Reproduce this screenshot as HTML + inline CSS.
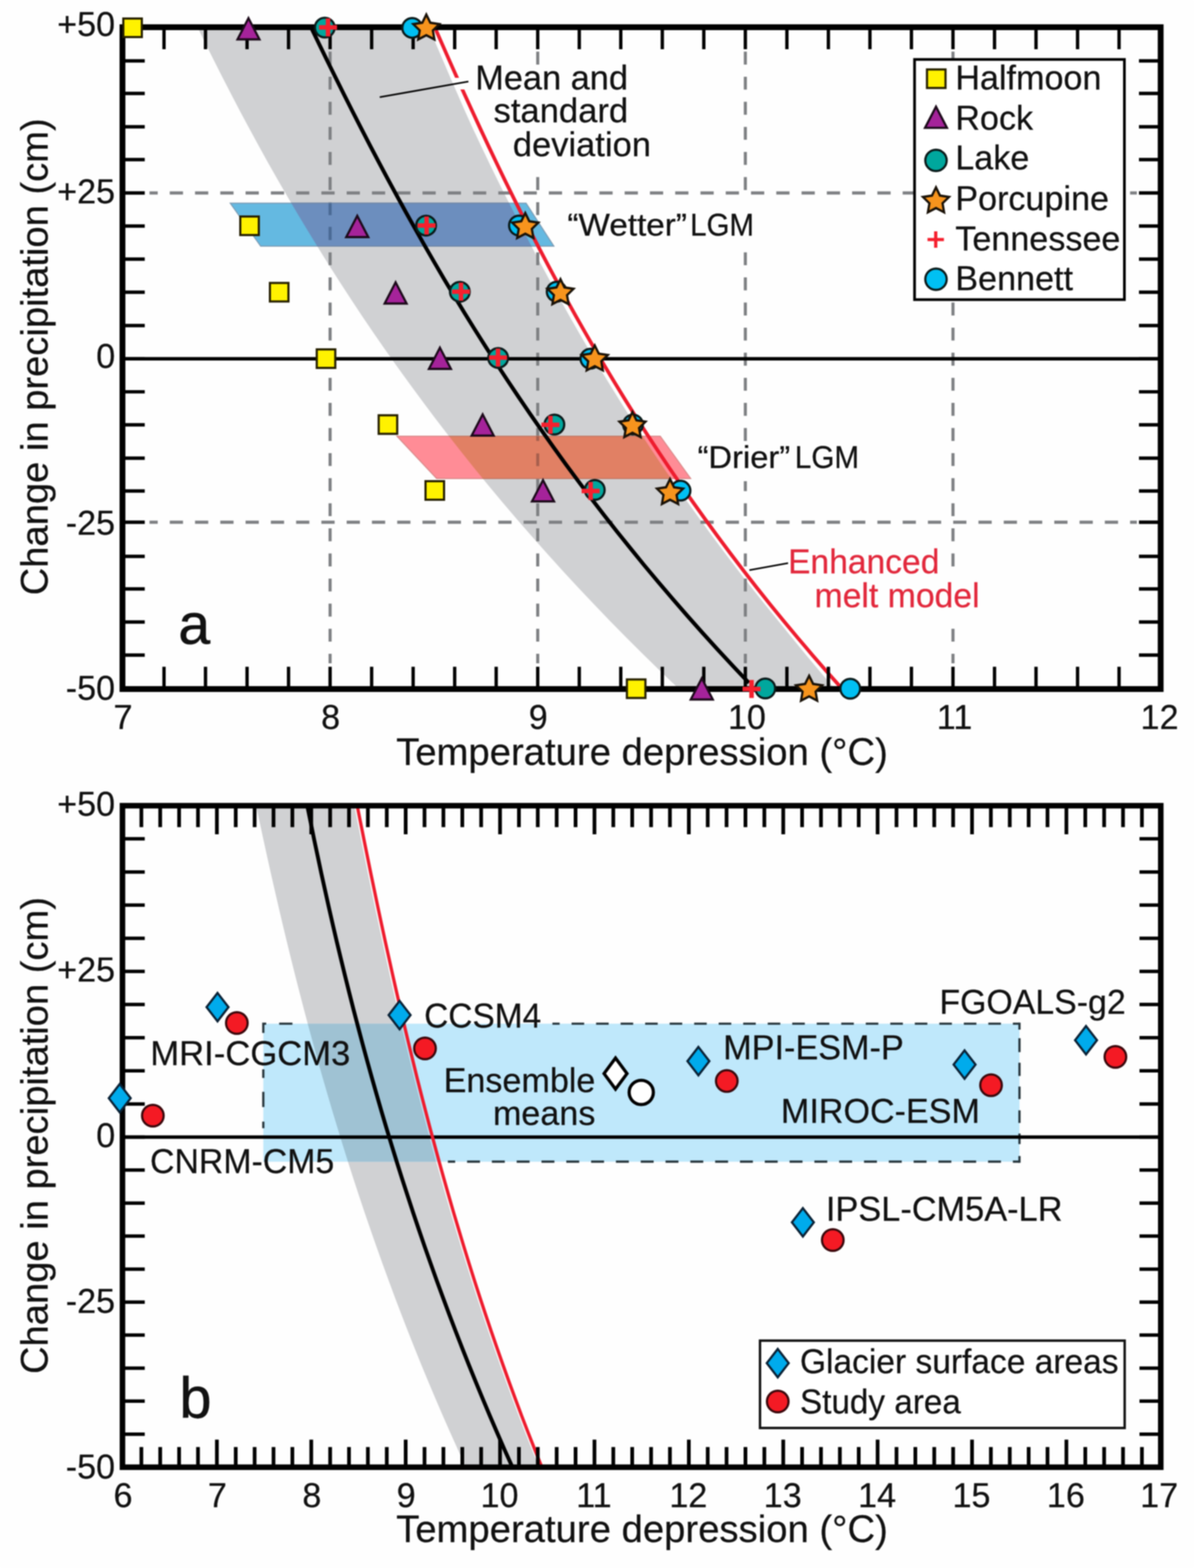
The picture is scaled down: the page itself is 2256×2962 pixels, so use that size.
<!DOCTYPE html>
<html lang="en">
<head>
<meta charset="utf-8">
<title>Change in precipitation vs temperature depression</title>
<style>
html,body{margin:0;padding:0;background:#fff;}
body{width:2256px;height:2962px;}
svg{display:block;font-family:'Liberation Sans', sans-serif;filter:blur(1.3px);}
</style>
</head>
<body>
<svg width="2256" height="2962" viewBox="0 0 2256 2962">
<rect x="0" y="0" width="2256" height="2962" fill="#fefefe"/>
<defs>
<clipPath id="bandA"><path d="M373.3 51.4 L388.9 83.5 L404.9 115.5 L421.1 147.6 L437.6 179.6 L454.4 211.7 L471.6 243.7 L489.0 275.8 L506.8 307.9 L525.0 339.9 L543.5 372.0 L562.3 404.0 L581.6 436.1 L601.2 468.1 L621.2 500.2 L641.7 532.2 L662.5 564.3 L683.8 596.4 L705.5 628.4 L727.7 660.5 L750.4 692.5 L773.5 724.6 L797.1 756.6 L821.2 788.7 L845.8 820.8 L870.9 852.8 L896.6 884.9 L922.8 916.9 L949.5 949.0 L976.8 981.0 L1004.7 1013.1 L1033.1 1045.1 L1062.2 1077.2 L1091.8 1109.3 L1122.1 1141.3 L1153.0 1173.4 L1184.5 1205.4 L1216.7 1237.5 L1249.5 1269.5 L1283.0 1301.6 L1577.5 1301.6 L1550.0 1269.5 L1523.2 1237.5 L1497.0 1205.4 L1471.0 1173.4 L1444.8 1141.3 L1419.3 1109.3 L1394.3 1077.2 L1369.8 1045.1 L1345.9 1013.1 L1322.5 981.0 L1299.4 949.0 L1276.8 916.9 L1254.7 884.9 L1233.0 852.8 L1211.9 820.8 L1191.1 788.7 L1170.8 756.6 L1151.0 724.6 L1131.5 692.5 L1112.5 660.5 L1093.9 628.4 L1075.6 596.4 L1057.6 564.3 L1040.0 532.2 L1022.8 500.2 L1005.8 468.1 L988.9 436.1 L972.3 404.0 L956.0 372.0 L940.0 339.9 L924.4 307.9 L909.0 275.8 L893.9 243.7 L879.4 211.7 L865.3 179.6 L851.3 147.6 L837.6 115.5 L823.9 83.5 L810.4 51.4 Z"/></clipPath>
<clipPath id="boxA"><rect x="231.4" y="51.4" width="1961.6" height="1250.2"/></clipPath>
</defs>
<g id="panel-a">
<path d="M373.3 51.4 L388.9 83.5 L404.9 115.5 L421.1 147.6 L437.6 179.6 L454.4 211.7 L471.6 243.7 L489.0 275.8 L506.8 307.9 L525.0 339.9 L543.5 372.0 L562.3 404.0 L581.6 436.1 L601.2 468.1 L621.2 500.2 L641.7 532.2 L662.5 564.3 L683.8 596.4 L705.5 628.4 L727.7 660.5 L750.4 692.5 L773.5 724.6 L797.1 756.6 L821.2 788.7 L845.8 820.8 L870.9 852.8 L896.6 884.9 L922.8 916.9 L949.5 949.0 L976.8 981.0 L1004.7 1013.1 L1033.1 1045.1 L1062.2 1077.2 L1091.8 1109.3 L1122.1 1141.3 L1153.0 1173.4 L1184.5 1205.4 L1216.7 1237.5 L1249.5 1269.5 L1283.0 1301.6 L1577.5 1301.6 L1550.0 1269.5 L1523.2 1237.5 L1497.0 1205.4 L1471.0 1173.4 L1444.8 1141.3 L1419.3 1109.3 L1394.3 1077.2 L1369.8 1045.1 L1345.9 1013.1 L1322.5 981.0 L1299.4 949.0 L1276.8 916.9 L1254.7 884.9 L1233.0 852.8 L1211.9 820.8 L1191.1 788.7 L1170.8 756.6 L1151.0 724.6 L1131.5 692.5 L1112.5 660.5 L1093.9 628.4 L1075.6 596.4 L1057.6 564.3 L1040.0 532.2 L1022.8 500.2 L1005.8 468.1 L988.9 436.1 L972.3 404.0 L956.0 372.0 L940.0 339.9 L924.4 307.9 L909.0 275.8 L893.9 243.7 L879.4 211.7 L865.3 179.6 L851.3 147.6 L837.6 115.5 L823.9 83.5 L810.4 51.4 Z" fill="#d0d1d3"/>
<line x1="623.7" y1="97.5" x2="623.7" y2="1253" stroke="#7e8083" stroke-width="5.8" stroke-dasharray="24.4 23"/>
<line x1="1016.0" y1="97.5" x2="1016.0" y2="1253" stroke="#7e8083" stroke-width="5.8" stroke-dasharray="24.4 23"/>
<line x1="1408.3" y1="97.5" x2="1408.3" y2="1253" stroke="#7e8083" stroke-width="5.8" stroke-dasharray="24.4 23"/>
<line x1="1800.6" y1="97.5" x2="1800.6" y2="1253" stroke="#7e8083" stroke-width="5.8" stroke-dasharray="24.4 23"/>
<line x1="282.5" y1="364.5" x2="2148" y2="364.5" stroke="#7e8083" stroke-width="5.8" stroke-dasharray="25 22.75" stroke-dashoffset="9.5"/>
<line x1="282.5" y1="986.5" x2="2148" y2="986.5" stroke="#7e8083" stroke-width="5.8" stroke-dasharray="25 22.75" stroke-dashoffset="9.5"/>
<rect x="1005" y="123" width="20" height="209.5" fill="#fefefe"/>
<rect x="1398" y="380" width="20" height="76" fill="#fefefe"/>
<rect x="1398" y="833" width="20" height="76" fill="#fefefe"/>
<rect x="1790" y="1080" width="21" height="100" fill="#fefefe"/>
<polygon points="435,383.8 994,383.8 1046.5,465 492.5,465" fill="#64b9e1" stroke="#7d9bb3" stroke-width="2"/>
<polygon points="435,383.8 994,383.8 1046.5,465 492.5,465" fill="#6c8ebe" stroke="#6f86a6" stroke-width="2" clip-path="url(#bandA)"/>
<polygon points="750,824 1247.5,824 1305,904 825,904" fill="#ff8c96" stroke="#d98a8a" stroke-width="2"/>
<polygon points="750,824 1247.5,824 1305,904 825,904" fill="#e18064" stroke="#c27a66" stroke-width="2" clip-path="url(#bandA)"/>
<path d="M623.7 384 V406.5 M623.7 428.5 V453.5" stroke="#4a6a95" stroke-width="5.8" fill="none"/>
<path d="M1016.0 824 V833 M1016.0 856.5 V880.5" stroke="#a8604e" stroke-width="5.8" fill="none"/>
<line x1="231.4" y1="677.8" x2="2193.0" y2="677.8" stroke="#000" stroke-width="6.5"/>
<path d="M821.4 51.4 L835.5 83.5 L849.6 115.5 L863.9 147.6 L878.4 179.6 L893.1 211.7 L907.9 243.7 L922.9 275.8 L938.2 307.9 L953.7 339.9 L969.5 372.0 L985.5 404.0 L1001.7 436.1 L1018.3 468.1 L1035.1 500.2 L1052.3 532.2 L1069.8 564.3 L1087.6 596.4 L1105.8 628.4 L1124.3 660.5 L1143.2 692.5 L1162.5 724.6 L1182.2 756.6 L1202.3 788.7 L1222.9 820.8 L1243.9 852.8 L1265.3 884.9 L1287.2 916.9 L1309.6 949.0 L1332.5 981.0 L1355.9 1013.1 L1379.8 1045.1 L1404.3 1077.2 L1429.3 1109.3 L1454.8 1141.3 L1481.0 1173.4 L1507.7 1205.4 L1535.0 1237.5 L1562.9 1269.5 L1591.5 1301.6" fill="none" stroke="#ee1c2e" stroke-width="6.8" clip-path="url(#boxA)"/>
<path d="M587.6 51.4 L602.9 83.2 L618.4 114.9 L634.1 146.7 L649.9 178.4 L665.9 210.2 L682.2 242.0 L698.6 273.7 L715.3 305.5 L732.2 337.2 L749.4 369.0 L766.8 400.7 L784.6 432.5 L802.6 464.3 L820.9 496.0 L839.5 527.8 L858.5 559.5 L877.8 591.3 L897.5 623.1 L917.5 654.8 L937.9 686.6 L958.7 718.3 L980.0 750.1 L1001.6 781.9 L1023.7 813.6 L1046.2 845.4 L1069.1 877.1 L1092.6 908.9 L1116.5 940.7 L1140.9 972.4 L1165.8 1004.2 L1191.3 1035.9 L1217.2 1067.7 L1243.7 1099.4 L1270.8 1131.2 L1298.5 1163.0 L1326.7 1194.7 L1355.5 1226.5 L1385.0 1258.2 L1415.0 1290.0" fill="none" stroke="#000" stroke-width="7.3" clip-path="url(#boxA)"/>
<polygon points="853,147 872,147 881,169 862,169" fill="#fefefe"/>
<rect x="231.4" y="51.4" width="1961.6" height="1250.2" fill="none" stroke="#000" stroke-width="11"/>
<path d="M309.9 51.4 V93 M309.9 1301.6 V1259.5 M388.3 51.4 V93 M388.3 1301.6 V1259.5 M466.8 51.4 V93 M466.8 1301.6 V1259.5 M545.2 51.4 V93 M545.2 1301.6 V1259.5 M623.7 51.4 V93 M623.7 1301.6 V1259.5 M702.2 51.4 V93 M702.2 1301.6 V1259.5 M780.6 51.4 V93 M780.6 1301.6 V1259.5 M859.1 51.4 V93 M859.1 1301.6 V1259.5 M937.5 51.4 V93 M937.5 1301.6 V1259.5 M1016.0 51.4 V93 M1016.0 1301.6 V1259.5 M1094.5 51.4 V93 M1094.5 1301.6 V1259.5 M1172.9 51.4 V93 M1172.9 1301.6 V1259.5 M1251.4 51.4 V93 M1251.4 1301.6 V1259.5 M1329.8 51.4 V93 M1329.8 1301.6 V1259.5 M1408.3 51.4 V93 M1408.3 1301.6 V1259.5 M1486.8 51.4 V93 M1486.8 1301.6 V1259.5 M1565.2 51.4 V93 M1565.2 1301.6 V1259.5 M1643.7 51.4 V93 M1643.7 1301.6 V1259.5 M1722.1 51.4 V93 M1722.1 1301.6 V1259.5 M1800.6 51.4 V93 M1800.6 1301.6 V1259.5 M1879.1 51.4 V93 M1879.1 1301.6 V1259.5 M1957.5 51.4 V93 M1957.5 1301.6 V1259.5 M2036.0 51.4 V93 M2036.0 1301.6 V1259.5 M2114.4 51.4 V93 M2114.4 1301.6 V1259.5 M231.4 115.0 H273.5 M2193.0 115.0 H2152 M231.4 176.5 H273.5 M2193.0 176.5 H2152 M231.4 239.5 H273.5 M2193.0 239.5 H2152 M231.4 301.5 H273.5 M2193.0 301.5 H2152 M231.4 364.5 H273.5 M2193.0 364.5 H2152 M231.4 427.0 H273.5 M2193.0 427.0 H2152 M231.4 489.5 H273.5 M2193.0 489.5 H2152 M231.4 552.0 H273.5 M2193.0 552.0 H2152 M231.4 615.0 H273.5 M2193.0 615.0 H2152 M231.4 677.8 H273.5 M2193.0 677.8 H2152 M231.4 740.2 H273.5 M2193.0 740.2 H2152 M231.4 802.5 H273.5 M2193.0 802.5 H2152 M231.4 865.5 H273.5 M2193.0 865.5 H2152 M231.4 927.5 H273.5 M2193.0 927.5 H2152 M231.4 986.5 H273.5 M2193.0 986.5 H2152 M231.4 1051.0 H273.5 M2193.0 1051.0 H2152 M231.4 1112.5 H273.5 M2193.0 1112.5 H2152 M231.4 1175.0 H273.5 M2193.0 1175.0 H2152 M231.4 1237.5 H273.5 M2193.0 1237.5 H2152 " stroke="#000" stroke-width="6.3" fill="none"/>
<line x1="717.5" y1="183.5" x2="885" y2="154" stroke="#000" stroke-width="3"/>
<line x1="1416" y1="1077" x2="1489" y2="1063.8" stroke="#000" stroke-width="3"/>
<rect x="233.0" y="35.0" width="35" height="35" fill="#fff200" stroke="#262000" stroke-width="4.1"/>
<rect x="454.0" y="409.0" width="35" height="35" fill="#fff200" stroke="#262000" stroke-width="4.1"/>
<rect x="510.0" y="534.5" width="35" height="35" fill="#fff200" stroke="#262000" stroke-width="4.1"/>
<rect x="598.5" y="660.0" width="35" height="35" fill="#fff200" stroke="#262000" stroke-width="4.1"/>
<rect x="715.5" y="784.5" width="35" height="35" fill="#fff200" stroke="#262000" stroke-width="4.1"/>
<rect x="804.0" y="909.0" width="35" height="35" fill="#fff200" stroke="#262000" stroke-width="4.1"/>
<rect x="1184.5" y="1283.5" width="35" height="35" fill="#fff200" stroke="#262000" stroke-width="4.1"/>
<polygon points="469.5,34.4 490.2,74.4 448.8,74.4" fill="#a5239a" stroke="#1c0a1a" stroke-width="4.2" stroke-linejoin="miter"/>
<polygon points="675.0,407.8 695.8,447.8 654.2,447.8" fill="#a5239a" stroke="#1c0a1a" stroke-width="4.2" stroke-linejoin="miter"/>
<polygon points="747.5,533.4 768.2,573.4 726.8,573.4" fill="#a5239a" stroke="#1c0a1a" stroke-width="4.2" stroke-linejoin="miter"/>
<polygon points="831.2,656.9 852.0,696.9 810.5,696.9" fill="#a5239a" stroke="#1c0a1a" stroke-width="4.2" stroke-linejoin="miter"/>
<polygon points="912.0,782.9 932.8,822.9 891.2,822.9" fill="#a5239a" stroke="#1c0a1a" stroke-width="4.2" stroke-linejoin="miter"/>
<polygon points="1026.0,907.1 1046.8,947.1 1005.2,947.1" fill="#a5239a" stroke="#1c0a1a" stroke-width="4.2" stroke-linejoin="miter"/>
<polygon points="1326.0,1281.4 1346.8,1321.4 1305.2,1321.4" fill="#a5239a" stroke="#1c0a1a" stroke-width="4.2" stroke-linejoin="miter"/>
<circle cx="613.6" cy="52.1" r="18.6" fill="#00a79d" stroke="#0a1a1a" stroke-width="4.2"/>
<circle cx="805.0" cy="426.2" r="18.6" fill="#00a79d" stroke="#0a1a1a" stroke-width="4.2"/>
<circle cx="868.8" cy="551.2" r="18.6" fill="#00a79d" stroke="#0a1a1a" stroke-width="4.2"/>
<circle cx="941.2" cy="676.2" r="18.6" fill="#00a79d" stroke="#0a1a1a" stroke-width="4.2"/>
<circle cx="1047.5" cy="802.0" r="18.6" fill="#00a79d" stroke="#0a1a1a" stroke-width="4.2"/>
<circle cx="1123.8" cy="925.5" r="18.6" fill="#00a79d" stroke="#0a1a1a" stroke-width="4.2"/>
<circle cx="1446.0" cy="1300.5" r="18.6" fill="#00a79d" stroke="#0a1a1a" stroke-width="4.2"/>
<path d="M602.8 51.8 H636.8 M619.8 34.8 V68.8" stroke="#f5202e" stroke-width="8.5" fill="none"/>
<path d="M789.0 426.0 H823.0 M806.0 409.0 V443.0" stroke="#f5202e" stroke-width="8.5" fill="none"/>
<path d="M854.0 551.0 H888.0 M871.0 534.0 V568.0" stroke="#f5202e" stroke-width="8.5" fill="none"/>
<path d="M924.0 675.5 H958.0 M941.0 658.5 V692.5" stroke="#f5202e" stroke-width="8.5" fill="none"/>
<path d="M1023.0 802.5 H1057.0 M1040.0 785.5 V819.5" stroke="#f5202e" stroke-width="8.5" fill="none"/>
<path d="M1099.0 927.5 H1133.0 M1116.0 910.5 V944.5" stroke="#f5202e" stroke-width="8.5" fill="none"/>
<path d="M1403.0 1301.5 H1437.0 M1420.0 1284.5 V1318.5" stroke="#f5202e" stroke-width="8.5" fill="none"/>
<circle cx="778.8" cy="52.7" r="18.6" fill="#00c0f3" stroke="#0a1a1a" stroke-width="4.2"/>
<circle cx="980.5" cy="426.0" r="18.6" fill="#00c0f3" stroke="#0a1a1a" stroke-width="4.2"/>
<circle cx="1051.8" cy="551.0" r="18.6" fill="#00c0f3" stroke="#0a1a1a" stroke-width="4.2"/>
<circle cx="1115.5" cy="677.5" r="18.6" fill="#00c0f3" stroke="#0a1a1a" stroke-width="4.2"/>
<circle cx="1196.0" cy="802.0" r="18.6" fill="#00c0f3" stroke="#0a1a1a" stroke-width="4.2"/>
<circle cx="1285.8" cy="926.8" r="18.6" fill="#00c0f3" stroke="#0a1a1a" stroke-width="4.2"/>
<circle cx="1606.5" cy="1301.0" r="18.6" fill="#00c0f3" stroke="#0a1a1a" stroke-width="4.2"/>
<polygon points="805.5,27.5 813.1,43.0 830.2,45.5 817.9,57.5 820.8,74.5 805.5,66.5 790.2,74.5 793.1,57.5 780.8,45.5 797.9,43.0" fill="#f7941d" stroke="#1a1208" stroke-width="4.3" stroke-linejoin="miter"/>
<polygon points="992.5,402.5 1000.1,418.0 1017.2,420.5 1004.9,432.5 1007.8,449.5 992.5,441.5 977.2,449.5 980.1,432.5 967.8,420.5 984.9,418.0" fill="#f7941d" stroke="#1a1208" stroke-width="4.3" stroke-linejoin="miter"/>
<polygon points="1059.0,527.5 1066.6,543.0 1083.7,545.5 1071.4,557.5 1074.3,574.5 1059.0,566.5 1043.7,574.5 1046.6,557.5 1034.3,545.5 1051.4,543.0" fill="#f7941d" stroke="#1a1208" stroke-width="4.3" stroke-linejoin="miter"/>
<polygon points="1123.8,652.6 1131.4,668.1 1148.5,670.6 1136.1,682.6 1139.0,699.6 1123.8,691.6 1108.5,699.6 1111.4,682.6 1099.0,670.6 1116.1,668.1" fill="#f7941d" stroke="#1a1208" stroke-width="4.3" stroke-linejoin="miter"/>
<polygon points="1195.0,778.5 1202.6,794.0 1219.7,796.5 1207.4,808.5 1210.3,825.5 1195.0,817.5 1179.7,825.5 1182.6,808.5 1170.3,796.5 1187.4,794.0" fill="#f7941d" stroke="#1a1208" stroke-width="4.3" stroke-linejoin="miter"/>
<polygon points="1266.0,905.0 1273.6,920.5 1290.7,923.0 1278.4,935.0 1281.3,952.0 1266.0,944.0 1250.7,952.0 1253.6,935.0 1241.3,923.0 1258.4,920.5" fill="#f7941d" stroke="#1a1208" stroke-width="4.3" stroke-linejoin="miter"/>
<polygon points="1528.8,1276.5 1536.4,1292.0 1553.5,1294.5 1541.1,1306.5 1544.0,1323.5 1528.8,1315.5 1513.5,1323.5 1516.4,1306.5 1504.0,1294.5 1521.1,1292.0" fill="#f7941d" stroke="#1a1208" stroke-width="4.3" stroke-linejoin="miter"/>
<rect x="1728" y="112.3" width="396.5" height="453.7" fill="#fff" stroke="#000" stroke-width="5.1"/>
<rect x="1751.5" y="131.2" width="35" height="35" fill="#fff200" stroke="#262000" stroke-width="4.1"/>
<polygon points="1768.5,201.5 1789.2,241.5 1747.8,241.5" fill="#a5239a" stroke="#1c0a1a" stroke-width="4.2" stroke-linejoin="miter"/>
<circle cx="1768.5" cy="303.0" r="20.2" fill="#00a79d" stroke="#0a1a1a" stroke-width="4.2"/>
<polygon points="1768.5,354.0 1776.1,369.5 1793.2,372.0 1780.9,384.0 1783.8,401.0 1768.5,393.0 1753.2,401.0 1756.1,384.0 1743.8,372.0 1760.9,369.5" fill="#f7941d" stroke="#1a1208" stroke-width="4.3" stroke-linejoin="miter"/>
<path d="M1752.5 452.5 H1783.5 M1768.0 437.0 V468.0" stroke="#f5202e" stroke-width="6.2" fill="none"/>
<circle cx="1768.5" cy="527.5" r="20.2" fill="#00c0f3" stroke="#0a1a1a" stroke-width="4.2"/>
<text x="1805.0" y="169.0" font-size="64.5" text-anchor="start" fill="#111" stroke="#111" stroke-width="0.4" >Halfmoon</text>
<text x="1805.0" y="244.5" font-size="64.5" text-anchor="start" fill="#111" stroke="#111" stroke-width="0.4" >Rock</text>
<text x="1805.0" y="320.0" font-size="64.5" text-anchor="start" fill="#111" stroke="#111" stroke-width="0.4" >Lake</text>
<text x="1805.0" y="396.5" font-size="64.5" text-anchor="start" fill="#111" stroke="#111" stroke-width="0.4" >Porcupine</text>
<text x="1805.0" y="472.5" font-size="64.5" text-anchor="start" fill="#111" stroke="#111" stroke-width="0.4" >Tennessee</text>
<text x="1805.0" y="547.5" font-size="64.5" text-anchor="start" fill="#111" stroke="#111" stroke-width="0.4" >Bennett</text>
<text x="898.0" y="169.0" font-size="64.5" text-anchor="start" fill="#111" stroke="#111" stroke-width="0.4" textLength="288.5" lengthAdjust="spacingAndGlyphs" >Mean and</text>
<text x="932.5" y="231.0" font-size="64.5" text-anchor="start" fill="#111" stroke="#111" stroke-width="0.4" textLength="254.5" lengthAdjust="spacingAndGlyphs" >standard</text>
<text x="969.0" y="295.0" font-size="64.5" text-anchor="start" fill="#111" stroke="#111" stroke-width="0.4" textLength="261.0" lengthAdjust="spacingAndGlyphs" >deviation</text>
<text y="445" font-size="60" fill="#111" stroke="#111" stroke-width="0.5"><tspan x="1072" textLength="226" lengthAdjust="spacingAndGlyphs">“Wetter”</tspan><tspan x="1288.5" textLength="136" lengthAdjust="spacingAndGlyphs"> LGM</tspan></text>
<text y="883.5" font-size="60" fill="#111" stroke="#111" stroke-width="0.5"><tspan x="1318" textLength="175" lengthAdjust="spacingAndGlyphs">“Drier”</tspan><tspan x="1486.3" textLength="137" lengthAdjust="spacingAndGlyphs"> LGM</tspan></text>
<text x="1489.0" y="1082.5" font-size="64.5" text-anchor="start" fill="#e2283c" stroke="#e2283c" stroke-width="0.4" textLength="286.0" lengthAdjust="spacingAndGlyphs" >Enhanced</text>
<text x="1539.0" y="1147.0" font-size="64.5" text-anchor="start" fill="#e2283c" stroke="#e2283c" stroke-width="0.4" textLength="312.0" lengthAdjust="spacingAndGlyphs" >melt model</text>
<text x="337.0" y="1216.0" font-size="108.0" text-anchor="start" fill="#111" stroke="#111" stroke-width="0.4" style="stroke-width:1px">a</text>
<text x="217.5" y="68.3" font-size="64.5" text-anchor="end" fill="#111" stroke="#111" stroke-width="0.4" >+50</text>
<text x="217.5" y="383.5" font-size="64.5" text-anchor="end" fill="#111" stroke="#111" stroke-width="0.4" >+25</text>
<text x="217.5" y="695.2" font-size="64.5" text-anchor="end" fill="#111" stroke="#111" stroke-width="0.4" >0</text>
<text x="217.5" y="1009.5" font-size="64.5" text-anchor="end" fill="#111" stroke="#111" stroke-width="0.4" >-25</text>
<text x="217.5" y="1321.8" font-size="64.5" text-anchor="end" fill="#111" stroke="#111" stroke-width="0.4" >-50</text>
<text x="232.4" y="1376.5" font-size="64.5" text-anchor="middle" fill="#111" stroke="#111" stroke-width="0.4" >7</text>
<text x="624.7" y="1376.5" font-size="64.5" text-anchor="middle" fill="#111" stroke="#111" stroke-width="0.4" >8</text>
<text x="1017.0" y="1376.5" font-size="64.5" text-anchor="middle" fill="#111" stroke="#111" stroke-width="0.4" >9</text>
<text x="1411.3" y="1376.5" font-size="64.5" text-anchor="middle" fill="#111" stroke="#111" stroke-width="0.4" >10</text>
<text x="1803.6" y="1376.5" font-size="64.5" text-anchor="middle" fill="#111" stroke="#111" stroke-width="0.4" >11</text>
<text x="2190.9" y="1376.5" font-size="64.5" text-anchor="middle" fill="#111" stroke="#111" stroke-width="0.4" >12</text>
<text x="1213.0" y="1445.0" font-size="72.5" text-anchor="middle" fill="#111" stroke="#111" stroke-width="0.4" textLength="929.0" lengthAdjust="spacingAndGlyphs" >Temperature depression (°C)</text>
<text transform="translate(90,674) rotate(-90)" font-size="71.5" text-anchor="middle" fill="#111" stroke="#111" stroke-width="0.4" textLength="901" lengthAdjust="spacingAndGlyphs">Change in precipitation (cm)</text>
</g>
<defs>
<clipPath id="bandB"><path d="M484.1 1522.0 L490.8 1554.0 L497.7 1586.1 L504.7 1618.1 L511.9 1650.2 L519.2 1682.2 L526.6 1714.2 L534.1 1746.3 L541.8 1778.3 L549.7 1810.4 L557.7 1842.4 L565.9 1874.5 L574.2 1906.5 L582.7 1938.5 L591.4 1970.6 L600.3 2002.6 L609.3 2034.7 L618.6 2066.7 L628.0 2098.7 L637.7 2130.8 L647.5 2162.8 L657.6 2194.9 L667.9 2226.9 L678.4 2258.9 L689.1 2291.0 L700.1 2323.0 L711.3 2355.1 L722.7 2387.1 L734.4 2419.1 L746.3 2451.2 L758.5 2483.2 L770.9 2515.3 L783.6 2547.3 L796.6 2579.4 L809.9 2611.4 L823.4 2643.4 L837.2 2675.5 L851.3 2707.5 L865.7 2739.6 L880.4 2771.6 L1018.3 2771.6 L1005.5 2739.6 L992.9 2707.5 L980.5 2675.5 L968.5 2643.4 L956.7 2611.4 L945.2 2579.4 L933.9 2547.3 L922.8 2515.3 L912.0 2483.2 L901.4 2451.2 L891.0 2419.1 L880.9 2387.1 L871.0 2355.1 L861.3 2323.0 L851.7 2291.0 L842.4 2258.9 L833.3 2226.9 L824.3 2194.9 L815.6 2162.8 L807.0 2130.8 L798.6 2098.7 L790.3 2066.7 L782.2 2034.7 L774.3 2002.6 L766.5 1970.6 L758.8 1938.5 L751.3 1906.5 L743.9 1874.5 L736.6 1842.4 L729.5 1810.4 L722.4 1778.3 L715.5 1746.3 L708.6 1714.2 L701.9 1682.2 L695.2 1650.2 L688.7 1618.1 L682.2 1586.1 L675.8 1554.0 L669.4 1522.0 Z"/></clipPath>
<clipPath id="boxB"><rect x="231.4" y="1522.0" width="1961.8" height="1249.6"/></clipPath>
</defs>
<g id="panel-b">
<path d="M484.1 1522.0 L490.8 1554.0 L497.7 1586.1 L504.7 1618.1 L511.9 1650.2 L519.2 1682.2 L526.6 1714.2 L534.1 1746.3 L541.8 1778.3 L549.7 1810.4 L557.7 1842.4 L565.9 1874.5 L574.2 1906.5 L582.7 1938.5 L591.4 1970.6 L600.3 2002.6 L609.3 2034.7 L618.6 2066.7 L628.0 2098.7 L637.7 2130.8 L647.5 2162.8 L657.6 2194.9 L667.9 2226.9 L678.4 2258.9 L689.1 2291.0 L700.1 2323.0 L711.3 2355.1 L722.7 2387.1 L734.4 2419.1 L746.3 2451.2 L758.5 2483.2 L770.9 2515.3 L783.6 2547.3 L796.6 2579.4 L809.9 2611.4 L823.4 2643.4 L837.2 2675.5 L851.3 2707.5 L865.7 2739.6 L880.4 2771.6 L1018.3 2771.6 L1005.5 2739.6 L992.9 2707.5 L980.5 2675.5 L968.5 2643.4 L956.7 2611.4 L945.2 2579.4 L933.9 2547.3 L922.8 2515.3 L912.0 2483.2 L901.4 2451.2 L891.0 2419.1 L880.9 2387.1 L871.0 2355.1 L861.3 2323.0 L851.7 2291.0 L842.4 2258.9 L833.3 2226.9 L824.3 2194.9 L815.6 2162.8 L807.0 2130.8 L798.6 2098.7 L790.3 2066.7 L782.2 2034.7 L774.3 2002.6 L766.5 1970.6 L758.8 1938.5 L751.3 1906.5 L743.9 1874.5 L736.6 1842.4 L729.5 1810.4 L722.4 1778.3 L715.5 1746.3 L708.6 1714.2 L701.9 1682.2 L695.2 1650.2 L688.7 1618.1 L682.2 1586.1 L675.8 1554.0 L669.4 1522.0 Z" fill="#d0d1d3"/>
<rect x="497.5" y="1933.75" width="1428.75" height="260.75" fill="#bfe8fb"/>
<rect x="497.5" y="1933.75" width="1428.75" height="260.75" fill="#9fc2d3" clip-path="url(#bandB)"/>
<path d="M1926.25 1933.75 H1043.75" fill="none" stroke="#26343b" stroke-width="4.2" stroke-dasharray="23.75 22.57" stroke-dashoffset="11.25"/>
<path d="M1926.25 2194.4 H846.25" fill="none" stroke="#26343b" stroke-width="4.2" stroke-dasharray="24.4 22.475" stroke-dashoffset="11.9"/>
<path d="M1926.25 1931.85 V1945 M1926.25 1961.25 V1987.5 M1926.25 2007.5 V2032.5 M1926.25 2052.5 V2076.25 M1926.25 2097.5 V2121.25 M1926.25 2141.25 V2161.25 M1926.25 2183.75 V2196.4" fill="none" stroke="#26343b" stroke-width="4.2"/>
<path d="M497.5 1951.25 V1931.85 M495.6 1933.75 H503 M527.5 1933.75 H552.5 M497.5 2020 V2036.25 M497.5 2062.5 V2091.25 M497.5 2118.75 V2131.25" fill="none" stroke="#26343b" stroke-width="4.2"/>
<line x1="231.4" y1="2148.0" x2="2193.2" y2="2148.0" stroke="#000" stroke-width="6.5"/>
<path d="M674.9 1522.0 L681.3 1554.0 L687.7 1586.1 L694.2 1618.1 L700.7 1650.2 L707.4 1682.2 L714.1 1714.2 L721.0 1746.3 L727.9 1778.3 L735.0 1810.4 L742.1 1842.4 L749.4 1874.5 L756.8 1906.5 L764.3 1938.5 L772.0 1970.6 L779.8 2002.6 L787.7 2034.7 L795.8 2066.7 L804.1 2098.7 L812.5 2130.8 L821.1 2162.8 L829.8 2194.9 L838.8 2226.9 L847.9 2258.9 L857.2 2291.0 L866.8 2323.0 L876.5 2355.1 L886.4 2387.1 L896.5 2419.1 L906.9 2451.2 L917.5 2483.2 L928.3 2515.3 L939.4 2547.3 L950.7 2579.4 L962.2 2611.4 L974.0 2643.4 L986.0 2675.5 L998.4 2707.5 L1011.0 2739.6 L1023.8 2771.6" fill="none" stroke="#ee1c2e" stroke-width="6.2" clip-path="url(#boxB)"/>
<path d="M580.6 1522.0 L587.1 1554.0 L593.6 1586.1 L600.4 1618.1 L607.2 1650.2 L614.3 1682.2 L621.4 1714.2 L628.7 1746.3 L636.2 1778.3 L643.9 1810.4 L651.7 1842.4 L659.7 1874.5 L667.8 1906.5 L676.2 1938.5 L684.7 1970.6 L693.4 2002.6 L702.3 2034.7 L711.4 2066.7 L720.6 2098.7 L730.1 2130.8 L739.8 2162.8 L749.7 2194.9 L759.8 2226.9 L770.2 2258.9 L780.7 2291.0 L791.5 2323.0 L802.5 2355.1 L813.8 2387.1 L825.2 2419.1 L837.0 2451.2 L848.9 2483.2 L861.1 2515.3 L873.6 2547.3 L886.3 2579.4 L899.3 2611.4 L912.5 2643.4 L926.0 2675.5 L939.8 2707.5 L953.8 2739.6 L968.2 2771.6" fill="none" stroke="#000" stroke-width="7.3" clip-path="url(#boxB)"/>
<rect x="231.4" y="1522.0" width="1961.8" height="1249.6" fill="none" stroke="#000" stroke-width="10.5"/>
<path d="M267.1 1522.0 V1562.5 M267.1 2771.6 V2733.5 M302.7 1522.0 V1562.5 M302.7 2771.6 V2733.5 M338.4 1522.0 V1562.5 M338.4 2771.6 V2733.5 M374.1 1522.0 V1562.5 M374.1 2771.6 V2733.5 M409.8 1522.0 V1576 M409.8 2771.6 V2719.5 M445.4 1522.0 V1562.5 M445.4 2771.6 V2733.5 M481.1 1522.0 V1562.5 M481.1 2771.6 V2733.5 M516.8 1522.0 V1562.5 M516.8 2771.6 V2733.5 M552.4 1522.0 V1562.5 M552.4 2771.6 V2733.5 M588.1 1522.0 V1576 M588.1 2771.6 V2719.5 M623.8 1522.0 V1562.5 M623.8 2771.6 V2733.5 M659.4 1522.0 V1562.5 M659.4 2771.6 V2733.5 M695.1 1522.0 V1562.5 M695.1 2771.6 V2733.5 M730.8 1522.0 V1562.5 M730.8 2771.6 V2733.5 M766.5 1522.0 V1576 M766.5 2771.6 V2719.5 M802.1 1522.0 V1562.5 M802.1 2771.6 V2733.5 M837.8 1522.0 V1562.5 M837.8 2771.6 V2733.5 M873.5 1522.0 V1562.5 M873.5 2771.6 V2733.5 M909.1 1522.0 V1562.5 M909.1 2771.6 V2733.5 M944.8 1522.0 V1576 M944.8 2771.6 V2719.5 M980.5 1522.0 V1562.5 M980.5 2771.6 V2733.5 M1016.1 1522.0 V1562.5 M1016.1 2771.6 V2733.5 M1051.8 1522.0 V1562.5 M1051.8 2771.6 V2733.5 M1087.5 1522.0 V1562.5 M1087.5 2771.6 V2733.5 M1123.2 1522.0 V1576 M1123.2 2771.6 V2719.5 M1158.8 1522.0 V1562.5 M1158.8 2771.6 V2733.5 M1194.5 1522.0 V1562.5 M1194.5 2771.6 V2733.5 M1230.2 1522.0 V1562.5 M1230.2 2771.6 V2733.5 M1265.8 1522.0 V1562.5 M1265.8 2771.6 V2733.5 M1301.5 1522.0 V1576 M1301.5 2771.6 V2719.5 M1337.2 1522.0 V1562.5 M1337.2 2771.6 V2733.5 M1372.8 1522.0 V1562.5 M1372.8 2771.6 V2733.5 M1408.5 1522.0 V1562.5 M1408.5 2771.6 V2733.5 M1444.2 1522.0 V1562.5 M1444.2 2771.6 V2733.5 M1479.9 1522.0 V1576 M1479.9 2771.6 V2719.5 M1515.5 1522.0 V1562.5 M1515.5 2771.6 V2733.5 M1551.2 1522.0 V1562.5 M1551.2 2771.6 V2733.5 M1586.9 1522.0 V1562.5 M1586.9 2771.6 V2733.5 M1622.5 1522.0 V1562.5 M1622.5 2771.6 V2733.5 M1658.2 1522.0 V1576 M1658.2 2771.6 V2719.5 M1693.9 1522.0 V1562.5 M1693.9 2771.6 V2733.5 M1729.5 1522.0 V1562.5 M1729.5 2771.6 V2733.5 M1765.2 1522.0 V1562.5 M1765.2 2771.6 V2733.5 M1800.9 1522.0 V1562.5 M1800.9 2771.6 V2733.5 M1836.6 1522.0 V1576 M1836.6 2771.6 V2719.5 M1872.2 1522.0 V1562.5 M1872.2 2771.6 V2733.5 M1907.9 1522.0 V1562.5 M1907.9 2771.6 V2733.5 M1943.6 1522.0 V1562.5 M1943.6 2771.6 V2733.5 M1979.2 1522.0 V1562.5 M1979.2 2771.6 V2733.5 M2014.9 1522.0 V1576 M2014.9 2771.6 V2719.5 M2050.6 1522.0 V1562.5 M2050.6 2771.6 V2733.5 M2086.2 1522.0 V1562.5 M2086.2 2771.6 V2733.5 M2121.9 1522.0 V1562.5 M2121.9 2771.6 V2733.5 M2157.6 1522.0 V1562.5 M2157.6 2771.6 V2733.5 " stroke="#000" stroke-width="7" fill="none"/>
<path d="M231.4 1584.6 H273.5 M2193.2 1584.6 H2153 M231.4 1647.2 H273.5 M2193.2 1647.2 H2153 M231.4 1709.8 H273.5 M2193.2 1709.8 H2153 M231.4 1772.4 H273.5 M2193.2 1772.4 H2153 M231.4 1835.0 H273.5 M2193.2 1835.0 H2153 M231.4 1897.6 H273.5 M2193.2 1897.6 H2153 M231.4 1960.2 H273.5 M2193.2 1960.2 H2153 M231.4 2022.8 H273.5 M2193.2 2022.8 H2153 M231.4 2085.4 H273.5 M2193.2 2085.4 H2153 M231.4 2148.0 H273.5 M2193.2 2148.0 H2153 M231.4 2210.3 H273.5 M2193.2 2210.3 H2153 M231.4 2272.7 H273.5 M2193.2 2272.7 H2153 M231.4 2335.1 H273.5 M2193.2 2335.1 H2153 M231.4 2397.4 H273.5 M2193.2 2397.4 H2153 M231.4 2459.8 H273.5 M2193.2 2459.8 H2153 M231.4 2522.1 H273.5 M2193.2 2522.1 H2153 M231.4 2584.4 H273.5 M2193.2 2584.4 H2153 M231.4 2646.8 H273.5 M2193.2 2646.8 H2153 M231.4 2709.2 H273.5 M2193.2 2709.2 H2153 " stroke="#000" stroke-width="6.5" fill="none"/>
<polygon points="226.2,2047.7 246.9,2074.5 226.2,2101.3 205.6,2074.5" fill="#00abec" stroke="#0a2236" stroke-width="4.2" stroke-linejoin="miter"/>
<circle cx="288.8" cy="2107.5" r="20.4" fill="#f41a24" stroke="#3a080c" stroke-width="4.2"/>
<polygon points="411.0,1875.7 431.7,1902.5 411.0,1929.3 390.3,1902.5" fill="#00abec" stroke="#0a2236" stroke-width="4.2" stroke-linejoin="miter"/>
<circle cx="447.5" cy="1932.5" r="20.4" fill="#f41a24" stroke="#3a080c" stroke-width="4.2"/>
<polygon points="755.0,1890.7 775.7,1917.5 755.0,1944.3 734.3,1917.5" fill="#00abec" stroke="#0a2236" stroke-width="4.2" stroke-linejoin="miter"/>
<circle cx="803.0" cy="1980.5" r="20.4" fill="#f41a24" stroke="#3a080c" stroke-width="4.2"/>
<polygon points="1319.6,1977.8 1340.3,2004.6 1319.6,2031.4 1298.9,2004.6" fill="#00abec" stroke="#0a2236" stroke-width="4.2" stroke-linejoin="miter"/>
<circle cx="1373.2" cy="2042.1" r="20.4" fill="#f41a24" stroke="#3a080c" stroke-width="4.2"/>
<polygon points="1822.5,1984.2 1843.2,2011.0 1822.5,2037.8 1801.8,2011.0" fill="#00abec" stroke="#0a2236" stroke-width="4.2" stroke-linejoin="miter"/>
<circle cx="1872.5" cy="2050.0" r="20.4" fill="#f41a24" stroke="#3a080c" stroke-width="4.2"/>
<polygon points="2052.0,1938.2 2072.7,1965.0 2052.0,1991.8 2031.3,1965.0" fill="#00abec" stroke="#0a2236" stroke-width="4.2" stroke-linejoin="miter"/>
<circle cx="2107.5" cy="1996.5" r="20.4" fill="#f41a24" stroke="#3a080c" stroke-width="4.2"/>
<polygon points="1517.0,2282.2 1537.7,2309.0 1517.0,2335.8 1496.3,2309.0" fill="#00abec" stroke="#0a2236" stroke-width="4.2" stroke-linejoin="miter"/>
<circle cx="1573.5" cy="2342.5" r="20.4" fill="#f41a24" stroke="#3a080c" stroke-width="4.2"/>
<polygon points="1163.0,1998.6 1184.7,2028.0 1163.0,2057.4 1141.3,2028.0" fill="#fff" stroke="#000" stroke-width="6.0" stroke-linejoin="miter"/>
<circle cx="1211.6" cy="2063.6" r="22.9" fill="#fff" stroke="#000" stroke-width="6.0"/>
<text x="284.0" y="2011.5" font-size="64.5" text-anchor="start" fill="#111" stroke="#111" stroke-width="0.4" textLength="378.0" lengthAdjust="spacingAndGlyphs" >MRI-CGCM3</text>
<text x="283.5" y="2216.0" font-size="64.5" text-anchor="start" fill="#111" stroke="#111" stroke-width="0.4" textLength="348.0" lengthAdjust="spacingAndGlyphs" >CNRM-CM5</text>
<text x="801.5" y="1940.5" font-size="64.5" text-anchor="start" fill="#111" stroke="#111" stroke-width="0.4" textLength="221.0" lengthAdjust="spacingAndGlyphs" >CCSM4</text>
<text x="1125.0" y="2062.5" font-size="64.5" text-anchor="end" fill="#111" stroke="#111" stroke-width="0.4" >Ensemble</text>
<text x="1125.0" y="2125.0" font-size="64.5" text-anchor="end" fill="#111" stroke="#111" stroke-width="0.4" >means</text>
<text x="1366.5" y="2001.0" font-size="64.5" text-anchor="start" fill="#111" stroke="#111" stroke-width="0.4" textLength="341.0" lengthAdjust="spacingAndGlyphs" >MPI-ESM-P</text>
<text x="1475.5" y="2120.5" font-size="64.5" text-anchor="start" fill="#111" stroke="#111" stroke-width="0.4" textLength="376.0" lengthAdjust="spacingAndGlyphs" >MIROC-ESM</text>
<text x="1775.0" y="1915.0" font-size="64.5" text-anchor="start" fill="#111" stroke="#111" stroke-width="0.4" textLength="352.0" lengthAdjust="spacingAndGlyphs" >FGOALS-g2</text>
<text x="1560.5" y="2306.0" font-size="64.5" text-anchor="start" fill="#111" stroke="#111" stroke-width="0.4" textLength="447.0" lengthAdjust="spacingAndGlyphs" >IPSL-CM5A-LR</text>
<text x="339.0" y="2678.0" font-size="109.0" text-anchor="start" fill="#111" stroke="#111" stroke-width="0.4" style="stroke-width:1px">b</text>
<rect x="1436" y="2532.5" width="689" height="165" fill="#fff" stroke="#111" stroke-width="4.6"/>
<polygon points="1469.5,2548.2 1490.2,2575.0 1469.5,2601.8 1448.8,2575.0" fill="#00abec" stroke="#0a2236" stroke-width="4.2" stroke-linejoin="miter"/>
<circle cx="1469.5" cy="2647.5" r="20.4" fill="#f41a24" stroke="#3a080c" stroke-width="4.2"/>
<text x="1511.5" y="2594.0" font-size="64.5" text-anchor="start" fill="#111" stroke="#111" stroke-width="0.4" textLength="602.0" lengthAdjust="spacingAndGlyphs" >Glacier surface areas</text>
<text x="1511.5" y="2670.0" font-size="64.5" text-anchor="start" fill="#111" stroke="#111" stroke-width="0.4" textLength="304.0" lengthAdjust="spacingAndGlyphs" >Study area</text>
<text x="217.5" y="1541.0" font-size="64.5" text-anchor="end" fill="#111" stroke="#111" stroke-width="0.4" >+50</text>
<text x="217.5" y="1853.6" font-size="64.5" text-anchor="end" fill="#111" stroke="#111" stroke-width="0.4" >+25</text>
<text x="217.5" y="2166.6" font-size="64.5" text-anchor="end" fill="#111" stroke="#111" stroke-width="0.4" >0</text>
<text x="217.5" y="2480.0" font-size="64.5" text-anchor="end" fill="#111" stroke="#111" stroke-width="0.4" >-25</text>
<text x="217.5" y="2793.3" font-size="64.5" text-anchor="end" fill="#111" stroke="#111" stroke-width="0.4" >-50</text>
<text x="232.4" y="2847.0" font-size="64.5" text-anchor="middle" fill="#111" stroke="#111" stroke-width="0.4" >6</text>
<text x="410.8" y="2847.0" font-size="64.5" text-anchor="middle" fill="#111" stroke="#111" stroke-width="0.4" >7</text>
<text x="589.1" y="2847.0" font-size="64.5" text-anchor="middle" fill="#111" stroke="#111" stroke-width="0.4" >8</text>
<text x="767.4" y="2847.0" font-size="64.5" text-anchor="middle" fill="#111" stroke="#111" stroke-width="0.4" >9</text>
<text x="943.8" y="2847.0" font-size="64.5" text-anchor="middle" fill="#111" stroke="#111" stroke-width="0.4" >10</text>
<text x="1122.2" y="2847.0" font-size="64.5" text-anchor="middle" fill="#111" stroke="#111" stroke-width="0.4" >11</text>
<text x="1300.5" y="2847.0" font-size="64.5" text-anchor="middle" fill="#111" stroke="#111" stroke-width="0.4" >12</text>
<text x="1478.9" y="2847.0" font-size="64.5" text-anchor="middle" fill="#111" stroke="#111" stroke-width="0.4" >13</text>
<text x="1657.2" y="2847.0" font-size="64.5" text-anchor="middle" fill="#111" stroke="#111" stroke-width="0.4" >14</text>
<text x="1835.5" y="2847.0" font-size="64.5" text-anchor="middle" fill="#111" stroke="#111" stroke-width="0.4" >15</text>
<text x="2013.9" y="2847.0" font-size="64.5" text-anchor="middle" fill="#111" stroke="#111" stroke-width="0.4" >16</text>
<text x="2190.2" y="2847.0" font-size="64.5" text-anchor="middle" fill="#111" stroke="#111" stroke-width="0.4" >17</text>
<text x="1213.0" y="2912.5" font-size="72.5" text-anchor="middle" fill="#111" stroke="#111" stroke-width="0.4" textLength="929.0" lengthAdjust="spacingAndGlyphs" >Temperature depression (°C)</text>
<text transform="translate(90,2145) rotate(-90)" font-size="71.5" text-anchor="middle" fill="#111" stroke="#111" stroke-width="0.4" textLength="901" lengthAdjust="spacingAndGlyphs">Change in precipitation (cm)</text>
</g>
</svg>
</body>
</html>
